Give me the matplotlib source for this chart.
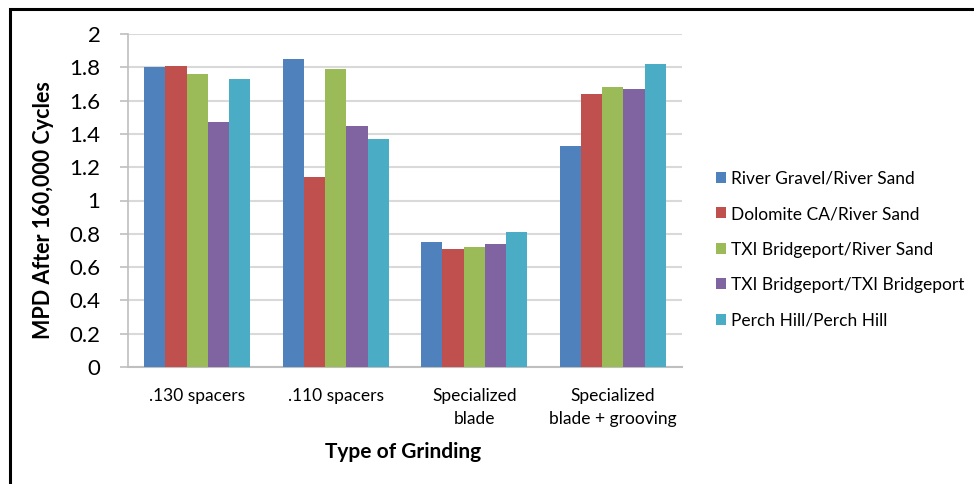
import matplotlib
matplotlib.use("Agg")
import matplotlib.pyplot as plt
import numpy as np
from matplotlib.patches import Rectangle

categories = [".130 spacers", ".110 spacers", "Specialized\nblade", "Specialized\nblade + grooving"]
series_names = ["River Gravel/River Sand", "Dolomite CA/River Sand",
                "TXI Bridgeport/River Sand", "TXI Bridgeport/TXI Bridgeport",
                "Perch Hill/Perch Hill"]
river_gravel = [1.80, 1.85, 0.75, 1.33]
dolomite = [1.81, 1.14, 0.71, 1.64]
txi_river = [1.76, 1.79, 0.72, 1.68]
txi_txi = [1.47, 1.45, 0.74, 1.67]
perch_hill = [1.73, 1.37, 0.81, 1.82]
series = [river_gravel, dolomite, txi_river, txi_txi, perch_hill]
colors = ["#4F81BD", "#C0504D", "#9BBB59", "#8064A2", "#4BACC6"]
yticks = [0, 0.2, 0.4, 0.6, 0.8, 1, 1.2, 1.4, 1.6, 1.8, 2]
ytick_labels = ["0", "0.2", "0.4", "0.6", "0.8", "1", "1.2", "1.4", "1.6", "1.8", "2"]

plt.rcParams['font.family'] = ['Lato', 'DejaVu Sans']

W, H = 974, 484
fig = plt.figure(figsize=(W/100, H/100), dpi=100)
# outer border
fig.patches.append(Rectangle((10/W, -0.1), 1.2, 1 - 9/H + 0.1, transform=fig.transFigure,
                             fill=False, edgecolor="black", linewidth=2.2))

ax = fig.add_axes([128/W, 1 - 367/H, (682-128)/W, (367-34)/H])
n = len(series)
x = np.arange(len(categories))
group_w = 0.765
bw = group_w / n
for i, (vals, c, name) in enumerate(zip(series, colors, series_names)):
    ax.bar(x - group_w/2 + bw*(i+0.5), vals, width=bw, color=c, label=name, zorder=3)

ax.set_xlim(-0.5, len(categories) - 0.5)
ax.set_ylim(0, 2)
ax.set_yticks(yticks)
ax.set_yticklabels(ytick_labels, fontsize=16)
ax.set_xticks(x)
ax.set_xticklabels(categories, fontsize=12.5, linespacing=1.55)
ax.tick_params(axis='x', length=0, pad=15)
ax.tick_params(axis='y', length=5.8, color="#BFBFBF", width=1.2, pad=14)
ax.yaxis.grid(True, color="#D9D9D9", linewidth=1.5, zorder=0)
for s in ["top", "right"]:
    ax.spines[s].set_visible(False)
ax.spines["left"].set_color("#BFBFBF")
ax.spines["bottom"].set_color("#BFBFBF")
ax.spines["left"].set_linewidth(1.2)
ax.spines["bottom"].set_linewidth(1.5)

ax.set_ylabel("MPD After 160,000 Cycles", fontsize=15.5, fontweight="bold")
ax.yaxis.set_label_coords((54 - 128) / 554, (367 - 210) / 333)
ax.set_xlabel("Type of Grinding", fontsize=15, fontweight="bold")
ax.xaxis.set_label_coords((403 - 128) / 554, -(442 - 367) / 333)

leg = ax.legend(loc="upper left", bbox_to_anchor=(700/W, 1 - 155/H), bbox_transform=fig.transFigure,
                frameon=False, fontsize=12.5, handlelength=0.6, handleheight=0.6,
                handletextpad=0.3, labelspacing=1.12)

fig.savefig("out.png", dpi=100)
